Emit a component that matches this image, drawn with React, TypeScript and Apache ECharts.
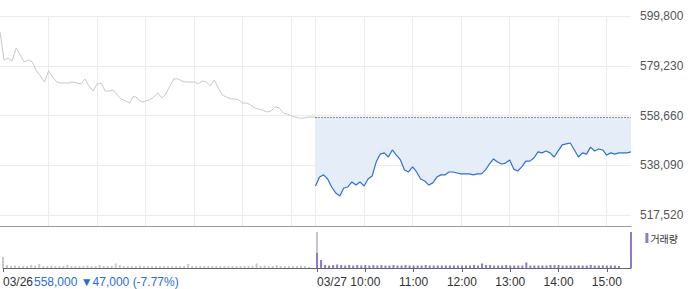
import React, { useEffect, useRef } from 'react';
import * as echarts from 'echarts';

const days = ['03/26', '03/27'];
const yTicks = [517520, 538090, 558660, 579230, 599800];
const prevClose = 558000;
const summaryPrice = '558,000';
const summaryChange = '47,000';
const summaryPct = '-7.77%';

// 5-minute prices, 03/26 09:00 .. close (last value plotted at the day boundary)
const day1Prices = [
  593200, 581600, 582400, 581200, 586600, 583700, 580800, 581600, 580800, 577100,
  575000, 572500, 577100, 574600, 572500, 572100, 572100, 572100, 572500, 572100,
  571700, 573800, 570900, 568800, 571700, 572100, 568800, 568800, 569200, 567100,
  565500, 564700, 563800, 566700, 565900, 564200, 564700, 565100, 566300, 568000,
  565900, 567500, 570900, 573800, 573800, 572900, 572500, 572500, 572500, 571700,
  572900, 572500, 570900, 573300, 570000, 567100, 566300, 565500, 565500, 565100,
  563800, 563800, 563000, 561800, 561300, 560900, 560100, 560500, 562200, 561800,
  559700, 559300, 558500, 558000, 557600, 557600, 558000, 558000, 558000,
];

// 5-minute prices, 03/27 09:00 .. 15:30
const day2Prices = [
  529500, 533200, 534100, 532400, 529100, 526600, 525400, 528700, 529100, 531200,
  529900, 531200, 529500, 532400, 533600, 539400, 542700, 543200, 541500, 544400,
  542300, 540300, 536100, 535300, 537400, 535300, 532400, 531600, 529900, 530800,
  533200, 534100, 534100, 535300, 535300, 534900, 534500, 534500, 534500, 534100,
  534500, 534500, 536100, 538600, 540700, 539400, 538600, 539000, 540300, 536500,
  535700, 537400, 539800, 539800, 541100, 543600, 543200, 544000, 543200, 541500,
  544000, 546500, 546900, 547300, 544400, 541500, 543200, 542700, 545600, 544000,
  544800, 544400, 542300, 543200, 542700, 543200, 543200, 543200, 543600,
];

const day1Volume = [
  1100, 300, 200, 250, 200, 200, 200, 300, 250, 400,
  200, 200, 250, 200, 200, 200, 300, 200, 200, 200,
  200, 250, 200, 200, 300, 200, 200, 200, 450, 300,
  200, 200, 200, 200, 250, 200, 200, 200, 200, 200,
  200, 200, 200, 200, 200, 200, 400, 200, 200, 200,
  200, 200, 200, 200, 200, 200, 200, 200, 200, 200,
  200, 200, 200, 450, 200, 250, 200, 200, 300, 200,
  200, 200, 200, 200, 250, 200, 100, 0, 3600,
];

const day2Volume = [
  1500, 800, 300, 250, 300, 350, 300, 250, 300, 250,
  300, 250, 300, 250, 300, 250, 300, 250, 250, 300,
  250, 250, 300, 250, 250, 250, 250, 300, 250, 250,
  250, 250, 250, 250, 250, 250, 250, 250, 250, 300,
  250, 450, 300, 300, 250, 250, 250, 300, 250, 250,
  250, 250, 550, 250, 250, 250, 250, 250, 300, 300,
  300, 250, 250, 250, 250, 250, 250, 250, 300, 250,
  250, 250, 250, 250, 250, 200, 0, 0, 3600,
];

const pad = (n: number) => (n < 10 ? '0' + n : '' + n);
const categories: string[] = [];
for (let d = 0; d < 2; d++) {
  const n = d === 0 ? 78 : 79;
  for (let k = 0; k < n; k++) {
    const m = 540 + k * 5;
    categories.push(`${days[d]} ${pad(Math.floor(m / 60))}:${pad(m % 60)}`);
  }
}
const day2Start = 78;
const last = categories.length - 1;

const grayData: (number | string)[] = categories.map((_, i) => (i < day1Prices.length ? day1Prices[i] : '-'));
const blueData: (number | string)[] = categories.map((_, i) => (i >= day2Start ? day2Prices[i - day2Start] : '-'));
const grayVol: (number | string)[] = categories.map((_, i) => (i < day1Volume.length ? day1Volume[i] : '-'));
const purpleVol: (number | string)[] = categories.map((_, i) => (i >= day2Start ? day2Volume[i - day2Start] : '-'));

const isHour = (i: number) => categories[i].endsWith(':00');
const labelShown = (i: number) => i === 0 || i === day2Start || (i > day2Start && isHour(i));
const splitShown = (i: number) => i !== 0 && (i === day2Start || isHour(i));

const FONT = '"Liberation Sans", Arial, sans-serif';

export default function App() {
  const ref = useRef<HTMLDivElement>(null);
  useEffect(() => {
    if (!ref.current) return;
    const chart = echarts.init(ref.current, undefined, { renderer: 'svg' });
    const step = (yTicks[1] - yTicks[0]) / 49.75;
    const dataMin = Math.round(yTicks[yTicks.length - 1] - 210 * step);
    chart.setOption({
      animation: false,
      textStyle: { fontFamily: FONT },
      grid: [
        { left: 0, right: 69, top: 16, height: 210 },
        { left: 0, right: 69, top: 16, height: 199 },
        { left: 0, right: 69, top: 226, height: 42 },
      ],
      legend: {
        data: ['거래량'],
        right: 17,
        top: 228,
        icon: 'rect',
        itemWidth: 3,
        itemHeight: 10,
        itemGap: 0,
        selectedMode: false,
        textStyle: { fontSize: 10, color: '#333', fontFamily: '"Noto Sans CJK KR", sans-serif', padding: [0, 0, 0, -3] },
      },
      xAxis: [
        {
          type: 'category', gridIndex: 0, data: categories, boundaryGap: false,
          axisLine: { show: true, lineStyle: { color: '#9a9a9a' } },
          axisTick: { show: false }, axisLabel: { show: false },
          splitLine: { show: true, interval: (i: number) => splitShown(i), lineStyle: { color: '#ececec', width: 1 } },
        },
        { type: 'category', gridIndex: 1, data: categories, boundaryGap: false, show: false },
        {
          type: 'category', gridIndex: 2, data: categories, boundaryGap: false,
          axisLine: { show: true, lineStyle: { color: '#666' } },
          axisTick: { show: true, interval: (i: number) => labelShown(i), length: 4, lineStyle: { color: '#666' } },
          splitLine: { show: false },
          axisLabel: {
            show: true,
            interval: (i: number) => labelShown(i),
            color: '#333',
            fontSize: 12,
            margin: 8,
            formatter: (v: string, i: number) => {
              const [d, t] = v.split(' ');
              if (i === 0 || i === day2Start) return `{d|${d}}`;
              return t;
            },
            rich: { d: { fontSize: 12, color: '#333', padding: [0, 0, 0, 30], fontFamily: FONT } },
          },
        },
      ],
      yAxis: [
        { type: 'value', gridIndex: 0, min: dataMin, max: yTicks[yTicks.length - 1], show: false },
        {
          type: 'value', gridIndex: 1, position: 'right',
          min: yTicks[0], max: yTicks[yTicks.length - 1], interval: yTicks[1] - yTicks[0],
          axisLine: { show: false }, axisTick: { show: false },
          splitLine: { show: true, lineStyle: { color: '#ebebeb' } },
          axisLabel: { color: '#555', fontSize: 12, margin: 9, formatter: (v: number) => v.toLocaleString('en-US') },
        },
        { type: 'value', gridIndex: 2, min: 0, max: 4200, show: false },
      ],
      series: [
        {
          name: 'prev', type: 'line', xAxisIndex: 0, yAxisIndex: 0, data: grayData,
          symbol: 'none', lineStyle: { color: '#c8c8ce', width: 1 }, z: 3,
        },
        {
          name: 'today', type: 'line', xAxisIndex: 0, yAxisIndex: 0, data: blueData,
          symbol: 'none', lineStyle: { color: '#2e6fd8', width: 1.2 }, z: 4,
          areaStyle: { origin: prevClose, color: '#e5edf9', opacity: 1 },
          markLine: {
            silent: true, symbol: ['none', 'none'], label: { show: false },
            lineStyle: { type: [1, 2], color: '#333', width: 1 },
            data: [[{ coord: [categories[day2Start], prevClose] }, { coord: [categories[last], prevClose] }]],
          },
        },
        {
          name: 'prevVol', type: 'bar', xAxisIndex: 2, yAxisIndex: 2, data: grayVol,
          barWidth: 2, itemStyle: { color: '#c8c8c8' },
        },
        {
          name: '거래량', type: 'bar', xAxisIndex: 2, yAxisIndex: 2, data: purpleVol,
          barWidth: 2, barGap: '-100%', itemStyle: { color: '#9079c8' },
        },
      ],
      graphic: [
        {
          type: 'text', left: 34, top: 276,
          style: { text: `${summaryPrice} ▼${summaryChange} (${summaryPct})`, fill: '#2c6cd6', font: `12px ${FONT}` },
        },
      ],
    });
    return () => chart.dispose();
  }, []);
  return <div ref={ref} style={{ position: 'absolute', left: 0, top: 0, width: 700, height: 289 }} />;
}
